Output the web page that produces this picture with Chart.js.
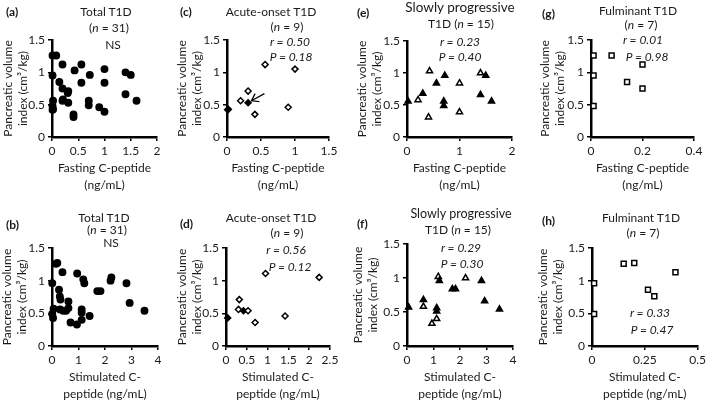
<!DOCTYPE html>
<html>
<head>
<meta charset="utf-8">
<script src="https://cdn.jsdelivr.net/npm/chart.js@4.4.1/dist/chart.umd.min.js"></script>
<style>
    body { margin: 0; background: #fff; }
    #fig { position: relative; width: 709px; height: 404px; overflow: hidden; font-family: Lato, 'Noto Sans', sans-serif; color: #1a1a1a; }
    canvas { position: absolute; }
    .txt { position: absolute; transform: translate(-50%, -50%); white-space: nowrap; font-size: 12px; line-height: 1; }
    .lbl { position: absolute; transform: translateY(-50%); font-weight: bold; font-size: 12px; line-height: 1; }
    .big { font-size: 13.5px; }
    .mid { font-size: 12.5px; }
</style>
</head>
<body>
<div id="fig"></div>
<script>
// Acute-onset T1D (diamonds), closed = filled marker
const acuteFastX = [0.01, 0.02, 0.20, 0.31, 0.31, 0.41, 0.56, 0.90, 1.00];
const acuteFastY = [0.42, 0.43, 0.56, 0.71, 0.53, 0.35, 1.12, 0.46, 1.05];
const acuteFastClosed = [1, 1, 0, 0, 1, 0, 0, 0, 0];
const acuteStimX = [0.04, 0.32, 0.30, 0.42, 0.53, 0.70, 0.95, 1.42, 2.24];
const acuteStimY = [0.43, 0.71, 0.56, 0.54, 0.54, 0.36, 1.11, 0.46, 1.05];
const acuteStimClosed = [1, 0, 0, 1, 0, 0, 0, 0, 0];

// arrow in panel (c), data units
const arrowFrom = [0.55, 0.67];
const arrowTo = [0.36, 0.56];

// Slowly progressive T1D (triangles)
const slowFastX = [0.02, 0.21, 0.30, 0.41, 0.43, 0.56, 0.72, 0.70, 0.70, 1.00, 1.00, 1.40, 1.40, 1.50, 1.61];
const slowFastY = [0.56, 0.58, 0.68, 0.31, 1.03, 0.84, 0.96, 0.56, 0.49, 0.84, 0.39, 1.00, 0.66, 0.96, 0.56];
const slowFastClosed = [1, 0, 1, 0, 0, 1, 1, 1, 1, 0, 0, 0, 1, 1, 1];
const slowStimX = [0.06, 0.62, 0.62, 0.94, 1.12, 1.12, 1.12, 1.18, 1.22, 1.71, 1.83, 2.21, 2.81, 2.93, 3.49];
const slowStimY = [0.57, 0.68, 0.58, 0.33, 0.56, 0.51, 0.40, 1.02, 0.96, 0.84, 0.84, 1.00, 0.96, 0.66, 0.54];
const slowStimClosed = [1, 1, 0, 0, 1, 1, 0, 0, 1, 1, 1, 0, 1, 1, 1];

// Fulminant T1D (open squares)
const fulmFastX = [0.01, 0.01, 0.01, 0.08, 0.14, 0.20, 0.20];
const fulmFastY = [1.26, 0.95, 0.48, 1.26, 0.85, 1.12, 0.75];
const fulmStimX = [0.01, 0.01, 0.15, 0.20, 0.265, 0.295, 0.395];
const fulmStimY = [0.96, 0.49, 1.26, 1.27, 0.86, 0.76, 1.13];

// Total T1D = all three groups
const totalFastX = acuteFastX.concat(slowFastX, fulmFastX);
const totalFastY = acuteFastY.concat(slowFastY, fulmFastY);
const totalStimX = acuteStimX.concat(slowStimX, fulmStimX);
const totalStimY = acuteStimY.concat(slowStimY, fulmStimY);

// tick labels
const yTicks = [0, 0.5, 1, 1.5];
const xTicksA = [0, 0.5, 1, 1.5, 2];
const xTicksC = [0, 0.5, 1, 1.5];
const xTicksE = [0, 1, 2];
const xTicksG = [0, 0.2, 0.4];
const xTicksB = [0, 1, 2, 3, 4];
const xTicksD = [0, 0.5, 1, 1.5, 2, 2.5];
const xTicksF = [0, 1, 2, 3, 4];
const xTicksH = [0, 0.25, 0.5];

const yTitle = ['Pancreatic volume', 'index (cm\u00B3/kg)'];
const fastTitle = ['Fasting C-peptide', '(ng/mL)'];
const stimTitle = ['Stimulated C-', 'peptide (ng/mL)'];

let fig = document.getElementById('fig');

function ones(arr) {
    return arr.map(() => 1);
}
function zeros(arr) {
    return arr.map(() => 0);
}

// box = canvas [left, top, width, height], area = plot [left, top, right, bottom]
let panels = [
    { box: [0, 0, 175, 200], area: [52, 40, 157, 137], x: totalFastX, y: totalFastY, closed: ones(totalFastX), marker: 'circle', radius: 3.2, xTicks: xTicksA, xTitle: fastTitle, yTitleX: 8, xTitlePad: 6.5 },
    { box: [175, 0, 175, 200], area: [227, 40, 329, 137], x: acuteFastX, y: acuteFastY, closed: acuteFastClosed, marker: 'rectRot', radius: 3, xTicks: xTicksC, xTitle: fastTitle, yTitleX: 6, xTitlePad: 6.5, arrow: true },
    { box: [350, 0, 180, 200], area: [407, 41, 512, 137], x: slowFastX, y: slowFastY, closed: slowFastClosed, marker: 'triangle', radius: 3.5, xTicks: xTicksE, xTitle: fastTitle, yTitleX: 12, xTitlePad: 6.5 },
    { box: [530, 0, 179, 200], area: [591, 40, 694, 137], x: fulmFastX, y: fulmFastY, closed: zeros(fulmFastX), marker: 'rect', radius: 3.5, xTicks: xTicksG, xTitle: fastTitle, yTitleX: 15, xTitlePad: 6.5 },
    { box: [0, 200, 175, 204], area: [52, 248, 158, 346], x: totalStimX, y: totalStimY, closed: ones(totalStimX), marker: 'circle', radius: 3.2, xTicks: xTicksB, xTitle: stimTitle, yTitleX: 6, xTitlePad: 1.5 },
    { box: [175, 200, 175, 204], area: [226, 248, 330, 346], x: acuteStimX, y: acuteStimY, closed: acuteStimClosed, marker: 'rectRot', radius: 3, xTicks: xTicksD, xTitle: stimTitle, yTitleX: 7, xTitlePad: 1.5 },
    { box: [350, 200, 180, 204], area: [407, 244, 513, 346], x: slowStimX, y: slowStimY, closed: slowStimClosed, marker: 'triangle', radius: 3.5, xTicks: xTicksF, xTitle: stimTitle, yTitleX: 8, xTitlePad: 1.5 },
    { box: [530, 200, 179, 204], area: [592, 248, 702, 346], x: fulmStimX, y: fulmStimY, closed: zeros(fulmStimX), marker: 'rect', radius: 3.5, xTicks: xTicksH, xTitle: stimTitle, yTitleX: 13, xTitlePad: 1.5 }
];

// [x, y, html, class]
let texts = [
    [6, 12, '(a)', 'lbl'], [106, 12, 'Total T1D'], [109, 28, '(<i>n</i> = 31)'], [113, 45, 'NS'],
    [180, 12, '(c)', 'lbl'], [271, 12, 'Acute-onset T1D'], [287, 27, '(<i>n</i> = 9)'], [290, 42, '<i>r = 0.50</i>'], [291, 57, '<i>P = 0.18</i>'],
    [357, 13, '(e)', 'lbl'], [460, 8, 'Slowly progressive', 'txt big'], [461, 24, 'T1D (<i>n</i> = 15)'], [460, 42, '<i>r = 0.23</i>'], [460, 57, '<i>P = 0.40</i>'],
    [542, 14, '(g)', 'lbl'], [638, 11, 'Fulminant T1D'], [641, 25, '(<i>n</i> = 7)'], [643, 40, '<i>r = 0.01</i>'], [647, 57, '<i>P = 0.98</i>'],
    [6, 225, '(b)', 'lbl'], [104, 218, 'Total T1D'], [107, 230, '(<i>n</i> = 31)'], [111, 243, 'NS'],
    [180, 224, '(d)', 'lbl'], [271, 218, 'Acute-onset T1D'], [287, 233, '(<i>n</i> = 9)'], [286, 250, '<i>r = 0.56</i>'], [290, 267, '<i>P = 0.12</i>'],
    [357, 224, '(f)', 'lbl'], [461, 214, 'Slowly progressive', 'txt mid'], [458, 230, 'T1D (<i>n</i> = 15)'], [461, 248, '<i>r = 0.29</i>'], [462, 264, '<i>P = 0.30</i>'],
    [542, 221, '(h)', 'lbl'], [641, 218, 'Fulminant T1D'], [643, 233, '(<i>n</i> = 7)'], [650, 313, '<i>r = 0.33</i>'], [652, 330, '<i>P = 0.47</i>']
];

// open arrow head pointing at the marked patient
const arrowPlugin = {
    id: 'arrow',
    afterDatasetsDraw(chart) {
        let xs = chart.scales.x, ys = chart.scales.y;
        let x1 = xs.getPixelForValue(arrowFrom[0]), y1 = ys.getPixelForValue(arrowFrom[1]);
        let x2 = xs.getPixelForValue(arrowTo[0]), y2 = ys.getPixelForValue(arrowTo[1]);
        let ang = Math.atan2(y2 - y1, x2 - x1);
        let ctx = chart.ctx;
        ctx.save();
        ctx.strokeStyle = '#000';
        ctx.lineWidth = 1.3;
        ctx.beginPath();
        ctx.moveTo(x1, y1);
        ctx.lineTo(x2, y2);
        ctx.moveTo(x2 - 8 * Math.cos(ang - 0.6), y2 - 8 * Math.sin(ang - 0.6));
        ctx.lineTo(x2, y2);
        ctx.lineTo(x2 - 8 * Math.cos(ang + 0.6), y2 - 8 * Math.sin(ang + 0.6));
        ctx.stroke();
        ctx.restore();
    }
};

function drawPanel(p) {
    let canvas = document.createElement('canvas');
    canvas.width = p.box[2];
    canvas.height = p.box[3];
    canvas.style.left = p.box[0] + 'px';
    canvas.style.top = p.box[1] + 'px';
    fig.appendChild(canvas);

    let yWidth = p.area[0] - p.box[0];
    let padTop = p.area[1] - p.box[1];
    let padRight = p.box[0] + p.box[2] - p.area[2];
    let xHeight = p.box[1] + p.box[3] - p.area[3];
    let xMax = p.xTicks[p.xTicks.length - 1];
    let tickFont = { family: 'Lato', size: 12 };

    new Chart(canvas.getContext('2d'), {
        type: 'scatter',
        data: {
            datasets: [{
                data: p.x.map((v, i) => ({ x: v, y: p.y[i] })),
                pointStyle: p.marker,
                pointRadius: p.radius,
                backgroundColor: p.closed.map(c => c ? '#000' : '#fff'),
                borderColor: '#000',
                borderWidth: 1.5,
                clip: false
            }]
        },
        options: {
            responsive: false,
            animation: false,
            layout: { padding: { left: 0, top: padTop, right: padRight, bottom: 0 } },
            plugins: { legend: { display: false }, tooltip: { enabled: false } },
            scales: {
                x: {
                    type: 'linear',
                    min: 0,
                    max: xMax,
                    afterFit: s => { s.height = xHeight; },
                    afterBuildTicks: s => { s.ticks = p.xTicks.map(v => ({ value: v })); },
                    ticks: { font: tickFont, color: '#1a1a1a', padding: 3, maxRotation: 0, autoSkip: false, callback: v => String(v) },
                    grid: { drawOnChartArea: false, drawTicks: true, tickLength: 4, color: '#000', lineWidth: 1.5 },
                    border: { display: true, color: '#000', width: 2.5 },
                    title: { display: true, text: p.xTitle, color: '#1a1a1a', font: { family: 'Lato', size: 12, lineHeight: '17px' }, padding: { top: 0, bottom: p.xTitlePad } }
                },
                y: {
                    type: 'linear',
                    min: 0,
                    max: 1.5,
                    afterFit: s => { s.width = yWidth; },
                    afterBuildTicks: s => { s.ticks = yTicks.map(v => ({ value: v })); },
                    ticks: { font: tickFont, color: '#1a1a1a', padding: 3, autoSkip: false, callback: v => String(v) },
                    grid: { drawOnChartArea: false, drawTicks: true, tickLength: 4, color: '#000', lineWidth: 1.5 },
                    border: { display: true, color: '#000', width: 2.5 },
                    title: { display: true, text: yTitle, color: '#1a1a1a', font: { family: 'Lato', size: 12, lineHeight: '15px' }, padding: { top: Math.max(p.yTitleX - 7.5, 0), bottom: 0 } }
                }
            }
        },
        plugins: p.arrow ? [arrowPlugin] : []
    });
}

panels.forEach(drawPanel);

texts.forEach(t => {
    let el = document.createElement('div');
    el.className = t[3] || 'txt';
    el.style.left = t[0] + 'px';
    el.style.top = t[1] + 'px';
    el.innerHTML = t[2];
    fig.appendChild(el);
});
</script>
</body>
</html>
